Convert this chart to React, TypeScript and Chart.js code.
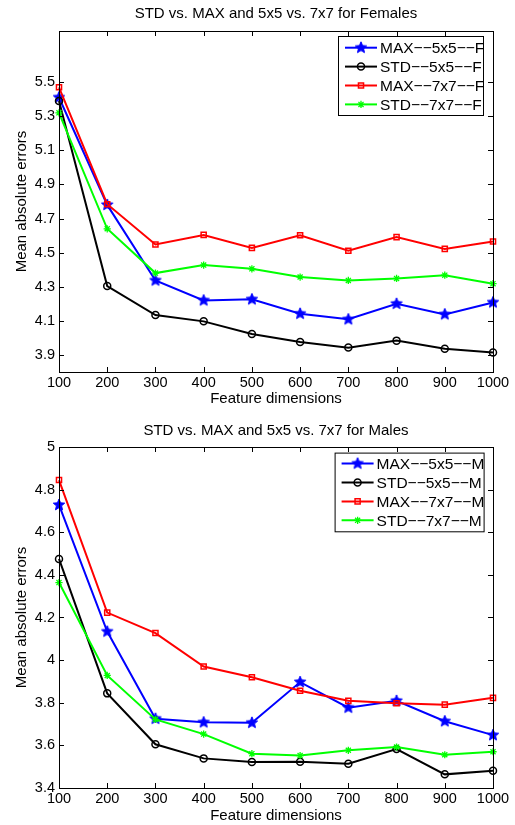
import React, { useEffect, useRef } from "react";
import { Chart, registerables } from "chart.js";
import { drawPoint } from "chart.js/helpers";

Chart.register(...registerables);

const FONT = "'Liberation Sans', Arial, Helvetica, sans-serif";

// ---------- data ----------
const DIMS = [100, 200, 300, 400, 500, 600, 700, 800, 900, 1000];

const F_MAX_5x5 = [5.41, 4.78, 4.337, 4.22, 4.226, 4.142, 4.109, 4.2, 4.138, 4.208];
const F_STD_5x5 = [5.39, 4.304, 4.134, 4.097, 4.023, 3.976, 3.943, 3.984, 3.937, 3.914];
const F_MAX_7x7 = [5.47, 4.784, 4.548, 4.604, 4.528, 4.602, 4.511, 4.591, 4.522, 4.565];
const F_STD_7x7 = [5.32, 4.64, 4.38, 4.427, 4.405, 4.357, 4.337, 4.349, 4.368, 4.318];

const M_MAX_5x5 = [4.728, 4.134, 3.725, 3.708, 3.706, 3.897, 3.777, 3.809, 3.713, 3.648];
const M_STD_5x5 = [4.475, 3.844, 3.605, 3.539, 3.522, 3.523, 3.514, 3.583, 3.464, 3.481];
const M_MAX_7x7 = [4.845, 4.223, 4.127, 3.97, 3.92, 3.856, 3.809, 3.798, 3.791, 3.823];
const M_STD_7x7 = [4.364, 3.928, 3.722, 3.653, 3.561, 3.552, 3.577, 3.592, 3.556, 3.57];

const F_LABELS = ["MAX−−5x5−−F", "STD−−5x5−−F", "MAX−−7x7−−F", "STD−−7x7−−F"];
const M_LABELS = ["MAX−−5x5−−M", "STD−−5x5−−M", "MAX−−7x7−−M", "STD−−7x7−−M"];

const F_Y_TICKS = [3.9, 4.1, 4.3, 4.5, 4.7, 4.9, 5.1, 5.3, 5.5];
const M_Y_TICKS = [3.4, 3.6, 3.8, 4, 4.2, 4.4, 4.6, 4.8, 5];
const X_TICKS = [100, 200, 300, 400, 500, 600, 700, 800, 900, 1000];

const F_TITLE = "STD vs. MAX and 5x5 vs. 7x7 for Females";
const M_TITLE = "STD vs. MAX and 5x5 vs. 7x7 for Males";
const X_TITLE = "Feature dimensions";
const Y_TITLE = "Mean absolute errors";

// ---------- styles ----------
function makeStar(color: string, r: number): HTMLCanvasElement {
  const size = Math.ceil(r * 2 + 2);
  const c = document.createElement("canvas");
  c.width = size;
  c.height = size;
  const g = c.getContext("2d")!;
  g.fillStyle = color;
  g.strokeStyle = color;
  g.lineWidth = 1;
  g.beginPath();
  for (let k = 0; k < 10; k++) {
    const ang = -Math.PI / 2 + (k * Math.PI) / 5;
    const rr = k % 2 === 0 ? r : r * 0.45;
    g.lineTo(size / 2 + rr * Math.cos(ang), size / 2 + rr * Math.sin(ang));
  }
  g.closePath();
  g.fill();
  g.stroke();
  return c;
}

function seriesStyles() {
  return [
    { color: "#0000ff", pointStyle: makeStar("#0000ff", 6) as any, radius: 6, bw: 1, fill: "#0000ff" },
    { color: "#000000", pointStyle: "circle", radius: 3.5, bw: 1.5, fill: "rgba(0,0,0,0)" },
    { color: "#ff0000", pointStyle: "rect", radius: 3.6, bw: 1.5, fill: "rgba(0,0,0,0)" },
    { color: "#00ff00", pointStyle: "star", radius: 3.6, bw: 1.3, fill: "rgba(0,0,0,0)" },
  ];
}

// ---------- plugin: matlab-like frame, title, legend ----------
const matlabPlugin = {
  id: "matlabFrame",
  afterDraw(chart: any, _args: any, opts: any) {
    const { ctx, chartArea: a, scales } = chart;
    ctx.save();
    ctx.strokeStyle = "#000";
    ctx.lineWidth = 1;
    const tl = 5;
    ctx.beginPath();
    for (const v of opts.xTicks) {
      const x = Math.round(scales.x.getPixelForValue(v)) + 0.5;
      ctx.moveTo(x, a.bottom);
      ctx.lineTo(x, a.bottom - tl);
      ctx.moveTo(x, a.top);
      ctx.lineTo(x, a.top + tl);
    }
    for (const v of opts.yTicks) {
      const y = Math.round(scales.y.getPixelForValue(v)) + 0.5;
      ctx.moveTo(a.left, y);
      ctx.lineTo(a.left + tl, y);
      ctx.moveTo(a.right, y);
      ctx.lineTo(a.right - tl, y);
    }
    ctx.stroke();
    ctx.strokeRect(a.left + 0.5, a.top + 0.5, a.right - a.left, a.bottom - a.top);

    // title
    ctx.fillStyle = "#000";
    ctx.font = `15px ${FONT}`;
    ctx.textAlign = "center";
    ctx.textBaseline = "alphabetic";
    ctx.fillText(opts.title, (a.left + a.right) / 2, opts.titleBaseline);

    // legend
    const L = opts.legend;
    const bx = a.right - L.right - L.width;
    const by = a.top + L.top;
    ctx.fillStyle = "#fff";
    ctx.fillRect(bx, by, L.width, L.height);
    ctx.save();
    ctx.beginPath();
    ctx.rect(bx, by, L.width, L.height);
    ctx.clip();
    chart.data.datasets.forEach((ds: any, i: number) => {
      const y = by + L.rowStart + i * L.rowGap;
      ctx.strokeStyle = ds.borderColor;
      ctx.lineWidth = 2;
      ctx.beginPath();
      ctx.moveTo(bx + 7, y);
      ctx.lineTo(bx + 39, y);
      ctx.stroke();
      ctx.fillStyle = ds.pointBackgroundColor;
      ctx.strokeStyle = ds.pointBorderColor;
      ctx.lineWidth = ds.pointBorderWidth;
      drawPoint(ctx, { pointStyle: ds.pointStyle, radius: ds.pointRadius, borderWidth: ds.pointBorderWidth, rotation: 0 } as any, bx + 23, y);
      ctx.fillStyle = "#000";
      ctx.font = `15.5px ${FONT}`;
      ctx.textAlign = "left";
      ctx.textBaseline = "alphabetic";
      ctx.fillText(ds.label, bx + 42, y + 5.6);
    });
    ctx.restore();
    ctx.strokeStyle = "#000";
    ctx.lineWidth = 1;
    ctx.strokeRect(bx + 0.5, by + 0.5, L.width, L.height);
    ctx.restore();
  },
};

type Spec = {
  title: string;
  series: number[][];
  labels: string[];
  yTicks: number[];
  yMin: number;
  yMax: number;
  padTop: number;
  xAxisH: number;
  xTitlePad: number;
  titleBaseline: number;
  legend: any;
  yFmt: (v: number) => string;
};

function buildConfig(spec: Spec): any {
  const styles = seriesStyles();
  return {
    type: "line",
    data: {
      datasets: spec.series.map((vals, i) => ({
        label: spec.labels[i],
        data: DIMS.map((d, j) => ({ x: d, y: vals[j] })),
        borderColor: styles[i].color,
        backgroundColor: styles[i].color,
        borderWidth: 2,
        pointStyle: styles[i].pointStyle,
        pointRadius: styles[i].radius,
        pointBorderWidth: styles[i].bw,
        pointBackgroundColor: styles[i].fill,
        pointBorderColor: styles[i].color,
        tension: 0,
        fill: false,
        clip: false,
        order: 3 - i,
      })),
    },
    options: {
      responsive: false,
      animation: false,
      events: [],
      layout: { padding: { top: spec.padTop, right: 22, left: 0, bottom: 0 } },
      plugins: {
        legend: { display: false },
        tooltip: { enabled: false },
        title: { display: false },
        matlabFrame: {
          title: spec.title,
          titleBaseline: spec.titleBaseline,
          xTicks: X_TICKS,
          yTicks: spec.yTicks,
          legend: spec.legend,
        },
      },
      scales: {
        x: {
          type: "linear",
          min: 100,
          max: 1000,
          afterBuildTicks: (s: any) => {
            s.ticks = X_TICKS.map((v) => ({ value: v }));
          },
          afterFit: (s: any) => {
            s.height = spec.xAxisH;
          },
          grid: { display: false, drawTicks: false },
          border: { display: false },
          ticks: {
            font: { size: 14.5, family: FONT },
            color: "#000",
            padding: 2,
            maxRotation: 0,
            autoSkip: false,
            callback: (v: any) => String(v),
          },
          title: {
            display: true,
            text: X_TITLE,
            color: "#000",
            font: { size: 15, family: FONT },
            padding: { top: 0, bottom: spec.xTitlePad },
          },
        },
        y: {
          type: "linear",
          min: spec.yMin,
          max: spec.yMax,
          afterBuildTicks: (s: any) => {
            s.ticks = spec.yTicks.map((v) => ({ value: v }));
          },
          afterFit: (s: any) => {
            s.width = 59;
          },
          grid: { display: false, drawTicks: false },
          border: { display: false },
          ticks: {
            font: { size: 14.5, family: FONT },
            color: "#000",
            padding: 4,
            autoSkip: false,
            callback: (v: any) => spec.yFmt(Number(v)),
          },
          title: {
            display: true,
            text: Y_TITLE,
            color: "#000",
            font: { size: 15, family: FONT },
            padding: { top: 12.5, bottom: 0 },
          },
        },
      },
    },
    plugins: [matlabPlugin],
  };
}

function ChartCanvas({ spec, height, top }: { spec: Spec; height: number; top: number }) {
  const ref = useRef<HTMLCanvasElement | null>(null);
  useEffect(() => {
    if (!ref.current) return;
    const chart = new Chart(ref.current, buildConfig(spec));
    return () => chart.destroy();
  }, []);
  return (
    <canvas
      ref={ref}
      width={515}
      height={height}
      style={{ position: "absolute", left: 0, top, width: 515, height, display: "block" }}
    />
  );
}

const femaleSpec: Spec = {
  title: F_TITLE,
  series: [F_MAX_5x5, F_STD_5x5, F_MAX_7x7, F_STD_7x7],
  labels: F_LABELS,
  yTicks: F_Y_TICKS,
  yMin: 3.8,
  yMax: 5.8,
  padTop: 31,
  xAxisH: 40,
  xTitlePad: 4,
  titleBaseline: 18.2,
  legend: { right: 10, width: 145, top: 5, height: 79, rowStart: 11.7, rowGap: 18.9 },
  yFmt: (v) => v.toFixed(1),
};

const maleSpec: Spec = {
  title: M_TITLE,
  series: [M_MAX_5x5, M_STD_5x5, M_MAX_7x7, M_STD_7x7],
  labels: M_LABELS,
  yTicks: M_Y_TICKS,
  yMin: 3.4,
  yMax: 5,
  padTop: 35,
  xAxisH: 37,
  xTitlePad: 0,
  titleBaseline: 22.9,
  legend: { right: 9.4, width: 149, top: 5.6, height: 78.7, rowStart: 11, rowGap: 18.9 },
  yFmt: (v) => String(Number(v.toFixed(1))),
};

export default function App() {
  return (
    <div
      style={{
        position: "absolute",
        left: 0,
        top: 0,
        width: 515,
        height: 825,
        overflow: "hidden",
        background: "#fff",
      }}
    >
      <ChartCanvas spec={femaleSpec} height={412} top={0} />
      <ChartCanvas spec={maleSpec} height={413} top={412} />
    </div>
  );
}
